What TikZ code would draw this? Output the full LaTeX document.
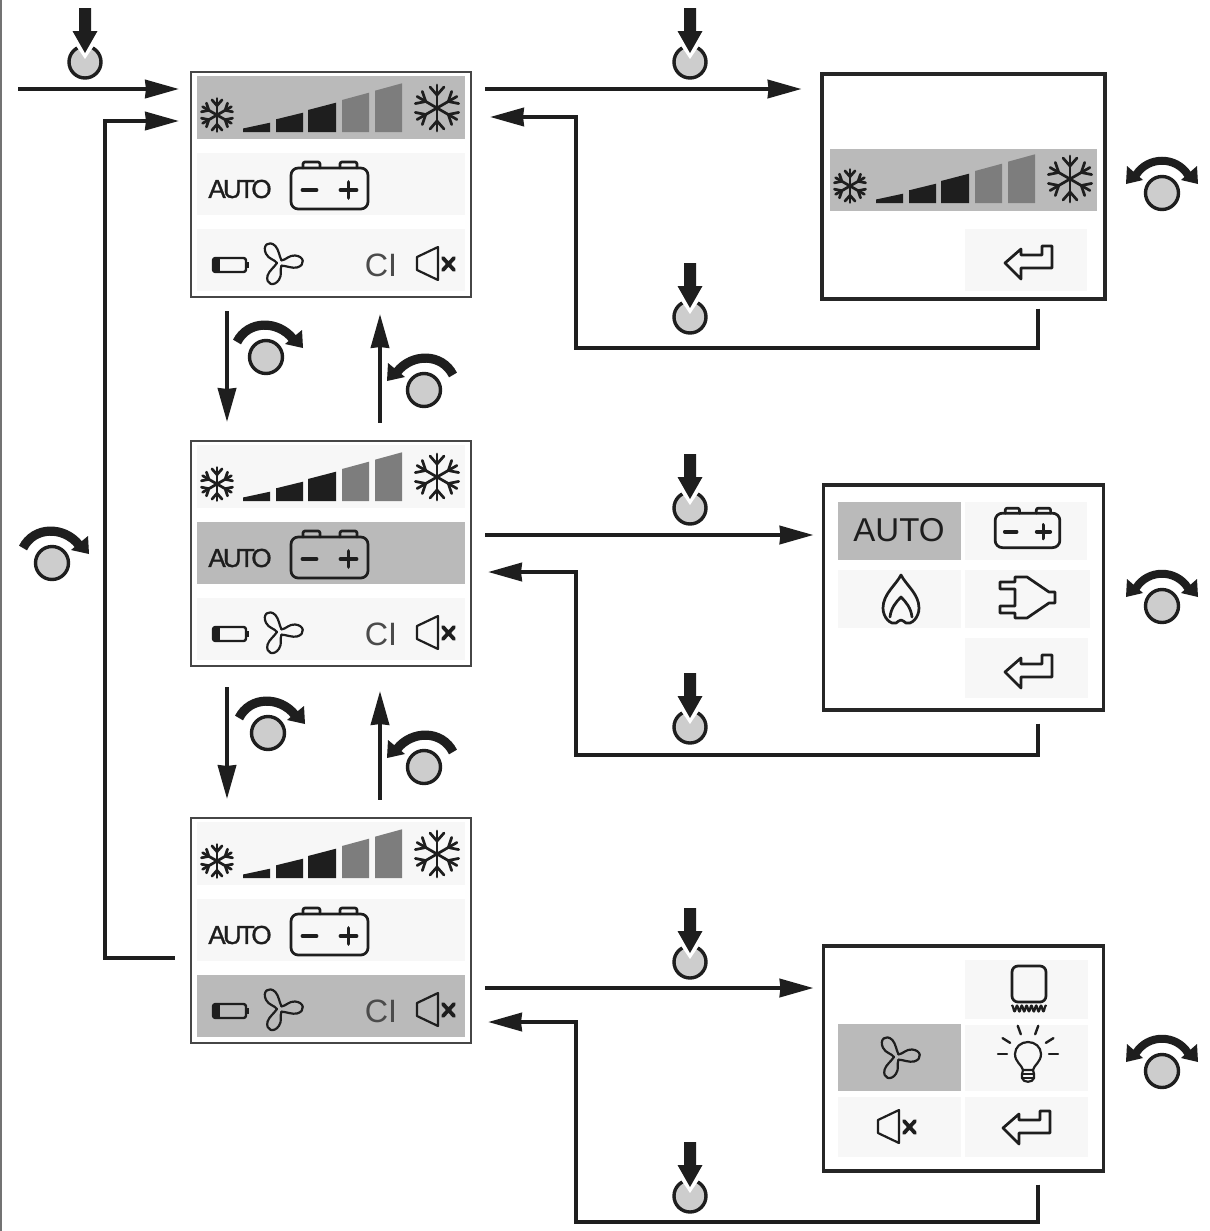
\documentclass[tikz,border=0pt]{standalone}
\usepackage{fontspec}
\usepackage{tikz}
\usetikzlibrary{positioning,arrows.meta}
\setmainfont{Liberation Sans}
\newfontfamily\tightfont[LetterSpace=-11,FakeBold=1.2]{Liberation Sans}
\definecolor{PanelInk}{RGB}{30,30,30}
\definecolor{PanelEdge}{RGB}{70,70,70}
\definecolor{RowGrey}{RGB}{186,186,186}
\definecolor{RowSoft}{RGB}{247,247,247}
\definecolor{BarGrey}{RGB}{125,125,125}
\definecolor{KnobGrey}{RGB}{205,205,205}
\tikzset{
	hilite/.style={fill=RowGrey},
	softrow/.style={fill=RowSoft},
	leftscreen/.style={draw=PanelEdge,fill=white,line width=.06cm,minimum width=7cm,minimum height=5.625cm,inner sep=0pt},
	rightscreen/.style={draw=black!85,fill=white,line width=.08cm,minimum width=6.98cm,minimum height=5.625cm,inner sep=0pt},
	flow/.style={draw=PanelInk,line width=.08cm,-{Stealth[length=.84cm,width=.46cm,inset=.02cm]}},
	icon/.style={draw=PanelInk,line width=.068cm,line join=round,line cap=round},
	autotext/.style={inner sep=0pt,font=\tightfont\fontsize{18.5}{20}\selectfont,text=PanelInk},
	bigauto/.style={inner sep=0pt,font=\fontsize{23.5}{26}\selectfont,text=PanelInk},
	cltext/.style={inner sep=0pt,font=\fontsize{23}{24}\selectfont,text=PanelInk!80},
	pics/flake/.style={code={
		\foreach \a in {30,90,...,330} {
			\draw[icon,rotate=\a] (0,0) -- (23,0);
			\draw[icon,rotate=\a] (21,-7) -- (13,0) -- (21,7);
		}
	}},
	pics/slopebars/.style={code={
		\fill[PanelInk] (52,60) -- (52,56.5) -- (79,50.7) -- (79,60) -- cycle;
		\fill[PanelInk] (85,60) -- (85,47.3) -- (112,40.7) -- (112,60) -- cycle;
		\fill[PanelInk] (117,60) -- (117,38) -- (145,30.7) -- (145,60) -- cycle;
		\fill[BarGrey] (151,60) -- (151,28) -- (178,20.7) -- (178,60) -- cycle;
		\fill[BarGrey] (184,60) -- (184,18.7) -- (211,11.3) -- (211,60) -- cycle;
	}},
	pics/coolrow/.style={code={
		\pic[scale=.72] at (26,43) {flake};
		\pic at (0,0) {slopebars};
		\pic at (246,36) {flake};
	}},
	pics/battery/.style={code={
		\draw[icon,rounded corners=.05cm] (-26.5,-20) -- (-26.5,-26) -- (-9.5,-26) -- (-9.5,-20);
		\draw[icon,rounded corners=.05cm] (10.5,-20) -- (10.5,-26) -- (27.5,-26) -- (27.5,-20);
		\draw[icon,rounded corners=.18cm] (-38.5,-20) rectangle (38.5,21);
		\draw[icon,line width=.095cm] (-27,2) -- (-13,2);
		\draw[icon,line width=.095cm] (11,2) -- (27,2) (19,-6) -- (19,10);
	}},
	pics/cell/.style={code={
		\draw[icon,line width=.06cm,rounded corners=.06cm] (-17,-7) rectangle (16,7);
		\fill[PanelInk] (-17,-6) rectangle (-10,6);
		\fill[PanelInk] (16,-3) rectangle (19,3);
	}},
	pics/fan/.style={code={
		\foreach \a in {0,120,240} {
			\draw[icon,line width=.055cm,rotate=\a] (1.5,-2.6) .. controls (6,-3) and (9,-8) .. (15,-7.5) .. controls (24,-7) and (26,2) .. (17,4.5) .. controls (12,5.5) and (7,3) .. (1.5,2.6);
		}
	}},
	pics/mutehorn/.style={code={
		\draw[icon,line width=.055cm] (-13,-7) -- (8,-17) -- (8,16) -- (-13,6) -- cycle;
		\draw[icon,line width=.095cm] (13,-6) -- (24,6) (13,6) -- (24,-6);
	}},
	pics/backarrow/.style={code={
		\draw[icon] (-24,1) -- (-8,-13) -- (-8,-7) -- (13,-7) -- (13,-16) -- (23,-16) -- (23,6) -- (-8,6) -- (-8,17) -- cycle;
	}},
	pics/flame/.style={code={
		\draw[icon] (0,-25) .. controls (-5,-15) and (-18,-6) .. (-18,8) .. controls (-18,18) and (-10,25) .. (-5,23) .. controls (-3,22) and (-2,20) .. (0,20) .. controls (2,20) and (3,22) .. (5,23) .. controls (10,25) and (18,18) .. (18,8) .. controls (18,-6) and (5,-15) .. (0,-25) -- cycle;
		\draw[icon] (-11,17) .. controls (-10,8) and (-5,2) .. (0,-3) .. controls (5,2) and (10,8) .. (11,17);
	}},
	pics/plug/.style={code={
		\draw[icon] (-12,-20) -- (0,-20) -- (22,-5) -- (28,-5) -- (28,6) -- (22,6) -- (0,21) -- (-12,21) -- (-12,16) -- (-27,16) -- (-27,9) -- (-12,9) -- (-12,-8) -- (-27,-8) -- (-27,-15) -- (-12,-15) -- cycle;
	}},
	pics/heater/.style={code={
		\draw[icon,rounded corners=.15cm] (-17,-18) rectangle (17,18);
		\draw[icon,line width=.055cm,domain=-17:17,samples=60] plot (\x,{24.5+3*cos(\x*75)});
	}},
	pics/bulb/.style={code={
		\draw[icon,line width=.055cm] (-5,13) .. controls (-6,8) and (-13,5) .. (-13,-3) .. controls (-13,-10) and (-7,-15) .. (0,-15) .. controls (7,-15) and (13,-10) .. (13,-3) .. controls (13,5) and (6,8) .. (5,13) -- cycle;
		\draw[icon,line width=.055cm] (-6,17) -- (6,17) (-6,21) -- (6,21);
		\draw[icon,line width=.055cm] (-5,13) -- (-6,17) -- (-6,21) .. controls (-5,26) and (5,26) .. (6,21) -- (6,17) -- (5,13);
		\foreach \a in {0,32,70,110,148,180} {
			\draw[icon,line width=.06cm,shift={(0,-3)},rotate=\a] (21,0) -- (30,0);
		}
	}},
	pics/pressknob/.style={code={
		\draw[draw=PanelInk,fill=KnobGrey,line width=.085cm] (0,0) circle (16);
		\fill[white] (-19,-31) -- (19,-31) -- (0,-3) -- cycle;
		\fill[PanelInk] (-6,-54) -- (6,-54) -- (6,-31) -- (12.5,-31) -- (0,-9) -- (-12.5,-31) -- (-6,-31) -- cycle;
	}},
	pics/turnknob/.style={code={
		\draw[draw=PanelInk,fill=KnobGrey,line width=.085cm] (0,0) circle (16.5);
		\draw[draw=PanelInk,line width=.23cm] (-29,-15) .. controls (-18,-37) and (12,-37) .. (27,-18);
		\fill[PanelInk] (36,-27) -- (37,-9) -- (19,-13) -- cycle;
	}},
	pics/bothknob/.style={code={
		\draw[draw=PanelInk,fill=KnobGrey,line width=.085cm] (0,0) circle (16.5);
		\draw[draw=PanelInk,line width=.2cm] (-26,-18) .. controls (-14,-37) and (14,-37) .. (26,-18);
		\fill[PanelInk] (35,-27) -- (36,-9) -- (19,-13) -- cycle;
		\fill[PanelInk] (-35,-27) -- (-36,-9) -- (-19,-13) -- cycle;
	}},
	pics/mainrows/.style n args={3}{code={
		\fill[#1] (6,4) rectangle (274,67);
		\fill[#2] (6,81) rectangle (274,143);
		\fill[#3] (6,157) rectangle (274,219);
		\pic at (0,0) {coolrow};
		\node[autotext] (autolabel) at (49,117) {AUTO};
		\pic at (138.5,116) {battery};
		\pic at (39,193) {cell};
		\pic at (89,191) {fan};
		\node[cltext] (cllabel) at (190,193) {CI};
		\pic at (239,192) {mutehorn};
	}}
}
\begin{document}
\begin{tikzpicture}[x=.025cm,y=-.025cm]
	\useasboundingbox (0,0) rectangle (1210,1231);
	\fill[white] (0,0) rectangle (1210,1231);
	\draw[draw=black!55,line width=.05cm] (1,0) -- (1,1231);

	\node[leftscreen] (scrTop) at (331,184.5) {};
	\node[leftscreen] (scrMid) at (331,553.5) {};
	\node[leftscreen] (scrLow) at (331,930.5) {};
	\node[rightscreen,minimum width=7.075cm] (scrCool) at (963.5,186.5) {};
	\node[rightscreen] (scrPower) at (963.5,597.5) {};
	\node[rightscreen] (scrExtra) at (963.5,1058.5) {};

	\pic at (191,72) {mainrows={hilite}{softrow}{softrow}};
	\pic at (191,441) {mainrows={softrow}{hilite}{softrow}};
	\pic at (191,818) {mainrows={softrow}{softrow}{hilite}};

	\fill[hilite] (830,149) rectangle (1097,211);
	\pic at (824,143) {coolrow};
	\fill[softrow] (965,229) rectangle (1087,291);
	\pic at (1029,262) {backarrow};

	\fill[hilite] (838,502) rectangle (961,560);
	\fill[softrow] (965,502) rectangle (1087,560);
	\fill[softrow] (838,570) rectangle (961,628);
	\fill[softrow] (965,570) rectangle (1090,628);
	\fill[softrow] (965,638) rectangle (1088,698);
	\node[bigauto] (autoWide) at (899,530) {AUTO};
	\pic[scale=.84] at (1027.5,530) {battery};
	\pic at (901,600) {flame};
	\pic at (1027,597) {plug};
	\pic at (1029,671) {backarrow};

	\fill[softrow] (965,960) rectangle (1088,1019);
	\fill[hilite] (838,1024) rectangle (961,1091);
	\fill[softrow] (965,1025) rectangle (1088,1091);
	\fill[softrow] (838,1097) rectangle (961,1157);
	\fill[softrow] (965,1097) rectangle (1088,1157);
	\pic at (1029,984) {heater};
	\pic at (897,1057) {fan};
	\pic at (1028,1057) {bulb};
	\pic at (891,1127) {mutehorn};
	\pic at (1027,1127) {backarrow};

	\coordinate (entry) at (18,89);
	\draw[flow,shorten >=.275cm] (entry) -- (scrTop.west |- entry);
	\draw[flow,shorten <=.375cm,shorten >=.275cm] (scrLow.west |- 0,958) -- (105,958) -- (105,121) -- (scrTop.west |- 0,121);

	\draw[flow,shorten <=.325cm,shorten >=.45cm] (scrTop.south -| 227,0) -- (scrMid.north -| 227,0);
	\draw[flow,shorten <=.425cm,shorten >=.4cm] (scrMid.north -| 380,0) -- (scrTop.south -| 380,0);
	\draw[flow,shorten <=.5cm,shorten >=.45cm] (scrMid.south -| 227,0) -- (scrLow.north -| 227,0);
	\draw[flow,shorten <=.425cm,shorten >=.6cm] (scrLow.north -| 380,0) -- (scrMid.south -| 380,0);

	\draw[flow,shorten <=.325cm,shorten >=.475cm] (scrTop.east |- 0,89) -- (scrCool.west |- 0,89);
	\draw[flow,shorten <=.2cm,shorten >=.45cm] (scrCool.south -| 1038,0) -- (1038,348) -- (576,348) -- (576,117) -- (scrTop.east |- 0,117);
	\draw[flow,shorten <=.325cm,shorten >=.225cm] (scrMid.east |- 0,535) -- (scrPower.west |- 0,535);
	\draw[flow,shorten <=.3cm,shorten >=.4cm] (scrPower.south -| 1038,0) -- (1038,755) -- (576,755) -- (576,572) -- (scrMid.east |- 0,572);
	\draw[flow,shorten <=.325cm,shorten >=.225cm] (scrLow.east |- 0,988) -- (scrExtra.west |- 0,988);
	\draw[flow,shorten <=.3cm,shorten >=.4cm] (scrExtra.south -| 1038,0) -- (1038,1222) -- (576,1222) -- (576,1022) -- (scrLow.east |- 0,1022);

	\foreach \kx/\ky in {85/62,690/62,690/317,690/508,690/727,690/962,690/1196} {
		\pic at (\kx,\ky) {pressknob};
	}
	\pic at (266,357) {turnknob};
	\pic at (268,733) {turnknob};
	\pic at (52,563) {turnknob};
	\pic[xscale=-1] at (424,390) {turnknob};
	\pic[xscale=-1] at (424,767) {turnknob};
	\pic at (1162,193) {bothknob};
	\pic at (1162,606) {bothknob};
	\pic at (1162,1071) {bothknob};
\end{tikzpicture}
\end{document}
